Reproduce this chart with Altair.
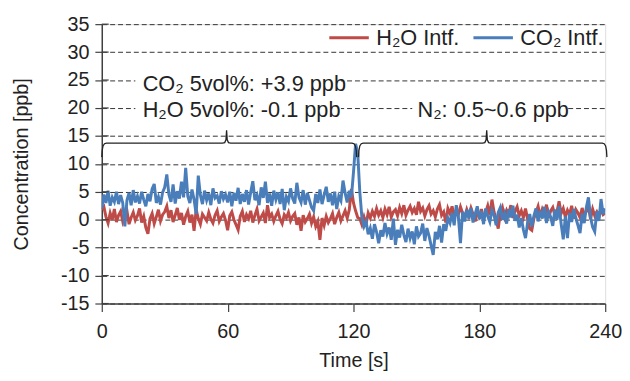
import altair as alt
import pandas as pd

# ---- data (1 s steps) ----
time_s = list(range(0, 241))

co2_intf = [
    2.0, 4.5, 3.0, 5.2, 2.5, 4.0, 3.2, 5.0, 2.8, 4.4,
    3.0, -1.2, 3.5, 4.8, 2.6, 5.3, 3.1, 4.2, 2.9, 5.0,
    3.6, 2.4, 4.6, 3.3, 5.5, 6.4, 3.0, 4.1, 2.7, 4.9,
    5.8, 8.1, 4.5, 3.2, 6.3, 2.9, 5.1, 3.8, 6.8, 4.0,
    9.3, 4.2, 3.0, 5.4, 3.6, 1.0, 7.9, 4.4, 2.8, 5.2,
    3.5, 4.7, 2.6, 5.6, 3.9, 4.3, 2.9, 5.1, 3.7, 4.5,
    3.1, 5.0, 2.4, 4.8, 3.4, 5.7, 2.8, 4.6, 3.2, 5.3,
    2.7, 4.9, 6.9, 3.5, 4.4, 2.6, 5.8, 3.9, 6.8, 3.0,
    4.7, 2.5, 5.2, 3.6, 4.9, 2.8, 5.5, 1.7, 4.1, 3.3,
    5.6, 3.8, 2.9, 6.6, 4.0, 3.1, 5.3, 2.7, 4.8, 3.5,
    2.2, 1.6, 4.6, 3.0, 5.4, 2.8, 4.4, 5.9, 3.2, 4.7,
    2.6, 5.0, 1.9, 4.2, 3.4, 7.0, 4.8, 3.1, 5.2, 4.0,
    8.5, 13.6, 12.0, 5.0, 0.4, -1.2, -0.3, -2.6, -1.5, -3.4,
    -0.8, -2.2, -4.2, -1.9, -3.0, -0.6, -2.5, -1.4, -3.6, 0.2,
    -4.5, -1.8, -3.2, -0.9, -2.7, -4.0, -1.6, -3.3, -2.1, -4.4,
    -1.2, -3.0, -2.4, -0.7, -3.8, -1.5, -2.9, -4.6, -6.3, -2.2,
    -3.5, -1.1, -4.1, -0.8, -2.0, 0.3, -0.6, 1.2, -1.0, 2.6,
    0.5, -4.2, 1.4, -0.3, 1.8, 0.2, 2.1, -0.5, 1.0, 2.4,
    0.1, 1.5, -0.8, 2.0, 0.6, -0.4, 1.7, 0.8, -1.0, 1.3,
    2.2, 0.0, 1.1, -0.7, 1.9, 0.4, 2.5, -0.2, 0.9, -1.4,
    0.3, -1.8, -3.3, -0.5, 1.0, -1.2, 0.7, 2.0, -0.3, 1.6,
    0.2, 2.3, -0.6, 1.4, 0.5, -1.1, 1.8, 0.0, 2.4, -0.8,
    -3.5, 0.6, -3.3, 1.2, -0.4, 1.9, 0.3, -1.0, -2.4, 1.1,
    -0.6, 2.2, 4.0, 0.4, -1.3, -2.1, 1.5, -0.2, 3.7, 1.0,
    2.0,
]

h2o_intf = [
    1.8, 2.3, 0.5, -0.6, 1.2, 0.0, 1.9, -0.4, 0.8, 1.5,
    -0.3, 0.9, 1.6, -0.8, 0.4, 1.3, -0.1, 0.7, 2.0, -0.5,
    0.6, -1.4, -2.5, 0.2, 1.1, -0.7, 0.5, 1.8, -0.2, 0.9,
    1.4, 2.4, 0.3, 1.7, -0.4, 0.8, 2.1, 0.0, 1.2, -0.9,
    0.6, 1.5, -0.5, 0.9, -2.0, 1.8, 0.2, -0.8, 1.0, 0.4,
    -0.2, 1.3, 0.1, -0.6, 0.8, 1.6, -0.3, 0.5, 1.1, -0.1,
    -1.9, 0.7, 1.4, 0.0, -0.9, -1.8, 0.6, 1.5, -0.4, 0.9,
    0.2, 1.6, -0.5, 0.8, 1.9, -0.2, 0.5, 1.2, -0.6, 2.6,
    0.4, 1.0, -0.3, 0.7, 1.5, 0.1, -0.7, 0.9, 0.3, 1.3,
    -0.2, 0.6, 1.1, -0.9, 0.4, -2.0, 0.8, -0.4, 0.2, 1.0,
    -0.6, 0.5, -1.2, -0.3, -3.6, 0.3, -1.0, 0.6, -0.5, 0.2,
    1.1, -0.8, 0.4, 1.3, -0.2, 0.7, 1.6, 0.3, 1.8, 5.5,
    3.0, 1.6, 0.4, 0.2, -0.9, 0.5, -0.8, 1.2, 0.3, 1.5,
    0.6, 2.0, 0.8, 1.6, 0.4, 1.9, 0.9, 2.3, 0.5, 1.4,
    1.8, 0.7, 2.2, 1.1, 2.6, 0.8, 1.7, 2.4, 1.3, 2.0,
    0.9, 3.2, 1.5, 2.1, 0.7, 1.8, 2.5, 1.0, 1.6, 0.5,
    1.9, 2.7, 0.8, 1.4, -0.5, 2.0, 1.1, 2.4, 0.6, 1.7,
    0.9, 2.3, 1.2, 0.4, 1.8, 0.7, 2.1, 1.0, -0.3, 1.5,
    0.6, 1.9, 0.2, 1.3, 2.5, 0.8, 3.6, 1.4, 0.0, -1.6,
    1.2, 2.2, 0.5, 1.7, 0.9, 2.6, 0.3, 1.5, 2.3, 0.7,
    1.6, 0.4, 2.0, 0.1, -1.6, -1.9, 0.2, 1.3, 2.4, 0.6,
    1.9, 1.0, 2.7, 0.3, 1.6, 2.2, 0.8, 1.4, 3.3, 1.1,
    2.0, 0.5, 1.7, 0.9, 2.5, 0.2, 1.8, 1.2, 0.4, 2.1,
    0.8, 1.5, 2.3, 0.1, 1.9, 0.7, 1.4, 0.5, 1.8, 0.9,
    1.2,
]

series_names = ["H\u2082O Intf.", "CO\u2082 Intf."]
series_colors = ["#be4b48", "#4a7ebb"]

x_ticks = [0, 60, 120, 180, 240]
y_ticks = [-15, -10, -5, 0, 5, 10, 15, 20, 25, 30, 35]

annot_text = ["CO\u2082 5vol%: +3.9 ppb", "H\u2082O 5vol%: -0.1 ppb", "N\u2082: 0.5~0.6 ppb"]
annot_t = [19.5, 19.5, 150.5]
annot_v = [23.0, 18.3, 18.3]

# white boxes behind the annotation texts (gridline gaps)
gap_t1 = [16, 16, 148]
gap_t2 = [114, 114, 221]
gap_v1 = [23, 18, 18]
gap_v2 = [27, 22, 22]

# curly-brace outlines (time, value)
brace1_t = [0, 0.2, 0.6, 1.3, 2.2, 57.5, 58.6, 59.2, 59.5, 59.8, 60.4, 61.5, 119.3, 120.2, 120.9, 121.3, 121.5]
brace1_v = [11.2, 12.4, 13.2, 13.6, 13.7, 13.7, 13.8, 14.3, 16.0, 14.3, 13.8, 13.7, 13.7, 13.6, 13.2, 12.4, 11.2]
brace2_t = [122.4, 122.6, 123.0, 123.7, 124.6, 181.5, 182.6, 183.2, 183.5, 183.8, 184.4, 185.5, 238.6, 239.5, 240.2, 240.6, 240.8]
brace2_v = [11.2, 12.4, 13.2, 13.6, 13.7, 13.7, 13.8, 14.3, 16.0, 14.3, 13.8, 13.7, 13.7, 13.6, 13.2, 12.4, 11.2]

FONT = "Liberation Sans"
TXT = "#222222"
AX = "#404040"

df = pd.DataFrame({
    "t": time_s * 2,
    "v": h2o_intf + co2_intf,
    "s": [series_names[0]] * len(time_s) + [series_names[1]] * len(time_s),
})

xscale = alt.Scale(domain=[0, 240], nice=False, zero=False)
yscale = alt.Scale(domain=[-15, 35], nice=False, zero=False)

x_axis = alt.Axis(
    values=x_ticks, title="Time [s]", grid=False, tickSize=8, tickColor=AX,
    domainColor=AX, domainWidth=1.5, tickWidth=1.2, labelFont=FONT, labelFontSize=20,
    labelColor=TXT, labelPadding=10, labelOverlap=False, titleFont=FONT, titleFontSize=20,
    titleFontWeight="normal", titleColor=TXT, titleX=255, titleY=58,
    titleBaseline="middle", labelFlush=False)
y_axis = alt.Axis(
    values=y_ticks, title="Concentration [ppb]", grid=True, gridDash=[5, 3],
    gridColor="#333333", gridWidth=1, tickSize=7, tickColor=AX, tickWidth=1.2,
    domainColor=AX, domainWidth=1.5, labelFont=FONT, labelFontSize=20,
    labelColor=TXT, labelPadding=6, labelOverlap=False,
    labelExpr="toString(datum.value)",
    titleFont=FONT, titleFontSize=20,
    titleFontWeight="normal", titleColor=TXT, titleX=-81, titleY=141.5,
    titleAngle=270, titleAlign="center", titleBaseline="middle", labelFlush=False)


def X(f):
    return alt.X(f, scale=xscale, axis=x_axis)


def Y(f):
    return alt.Y(f, scale=yscale, axis=y_axis)


lines = alt.Chart(df).mark_line(strokeWidth=3, clip=True).encode(
    x=X("t:Q"), y=Y("v:Q"),
    color=alt.Color("s:N", scale=alt.Scale(domain=series_names, range=series_colors),
                    sort=series_names,
                    legend=alt.Legend(title=None, orient="none", legendX=229, legendY=-8,
                                      direction="horizontal", symbolType="stroke",
                                      symbolSize=1600, symbolStrokeWidth=3,
                                      labelFont=FONT, labelFontSize=22, labelColor=TXT,
                                      labelOffset=6, columnPadding=7, padding=0)),
    detail="s:N",
)

gaps = alt.Chart(pd.DataFrame({"t": gap_t1, "t2": gap_t2, "v": gap_v1, "v2": gap_v2})).mark_rect(
    color="white").encode(x=X("t:Q"), x2="t2:Q", y=Y("v:Q"), y2="v2:Q")

texts = alt.Chart(pd.DataFrame({"t": annot_t, "v": annot_v, "txt": annot_text})).mark_text(
    align="left", baseline="alphabetic", font=FONT, fontSize=22, color=TXT).encode(
    x=X("t:Q"), y=Y("v:Q"), text="txt:N")

bdf = pd.DataFrame({
    "t": brace1_t + brace2_t,
    "v": brace1_v + brace2_v,
    "b": ["a"] * len(brace1_t) + ["b"] * len(brace2_t),
    "i": list(range(len(brace1_t))) + list(range(len(brace2_t))),
})
braces = alt.Chart(bdf).mark_line(color="#222222", strokeWidth=1.3).encode(
    x=X("t:Q"), y=Y("v:Q"), detail="b:N", order="i:Q")

inner_ticks = alt.Chart(pd.DataFrame({"v": y_ticks})).mark_rule(color=AX, strokeWidth=1.2).encode(
    y=Y("v:Q"), x=alt.value(0), x2=alt.value(7))

chart = alt.layer(gaps, lines, braces, texts, inner_ticks).properties(
    width=510, height=283,
    autosize=alt.AutoSizeParams(type="none"),
    padding={"left": 95, "top": 14, "right": 17, "bottom": 66},
).configure_view(stroke=AX, strokeWidth=1.5).configure_axis(
    labelOverlap=False).configure(background="white")

chart.save("out.html", embed_options={"renderer": "svg", "actions": False})
